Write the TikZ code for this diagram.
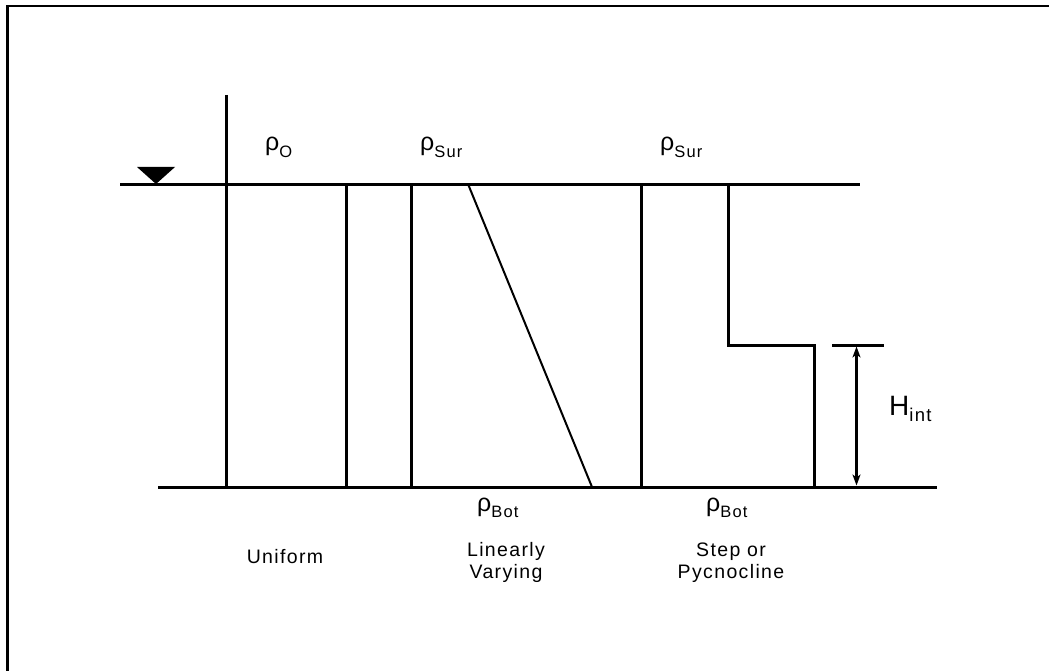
\documentclass[tikz,border=0pt]{standalone}
\usepackage{fontspec}
\usetikzlibrary{arrows.meta}
\setmainfont{Liberation Sans}
\newfontfamily\lblfont[LetterSpace=7]{Liberation Sans}
\newcommand{\rsub}[1]{\raisebox{-6.5pt}{\lblfont\fontsize{16.5}{17}\selectfont #1}}
\begin{document}
\begin{tikzpicture}[x=1pt,y=-1pt,
  ln/.style={line width=3pt},
  thin/.style={line width=2pt},
  lbl/.style={font=\lblfont\fontsize{19.5}{21.5}\selectfont, align=center, inner sep=0pt, anchor=base},
  rho/.style={font=\fontsize{25}{26}\selectfont, inner sep=0pt, anchor=base west}]
\useasboundingbox (0,0) rectangle (1049,671);
% frame (top and left only)
\draw[line width=2.8pt] (1049,6) -- (7.5,6) -- (7.5,671);
% surface & bottom
\coordinate (s0) at (120,184.5); \coordinate (s1) at (860,184.5);
\coordinate (b0) at (158,487); \coordinate (b1) at (937,487);
\draw[ln] (s0) -- (s1);
\draw[ln] (b0) -- (b1);
% water level triangle
\fill (137,167) -- (175,167) -- (156,184) -- cycle;
% axis
\coordinate (a0) at (226,95); \coordinate (a1) at (226,487);
\draw[ln] (a0) -- (a1);
% uniform
\draw[ln] (346,184) -- (346,487);
% linear
\draw[ln] (411,184) -- (411,487);
\draw[thin] (468,184) -- (592,487);
% step
\draw[ln] (641,184) -- (641,487);
\draw[ln] (728,184) -- (728,345) -- (814,345) -- (814,487);
% H_int
\coordinate (h0) at (832,345); \coordinate (h1) at (884,345);
\draw[ln] (h0) -- (h1);
\draw[ln, {Stealth[length=11pt,width=8pt,inset=3pt]}-{Stealth[length=11pt,width=8pt,inset=3pt]}] (856.5,346.5) -- (856.5,485.5);
\node[anchor=base west, inner sep=0pt, font=\fontsize{28}{30}\selectfont] (H) at (889,415) {H\raisebox{-6pt}{\lblfont\fontsize{18.5}{20}\selectfont int}};
% rho labels
\node[rho] (r0) at (265,151) {ρ\rsub{O}};
\node[rho] (r1) at (420,151) {ρ\rsub{Sur}};
\node[rho] (r2) at (660,151) {ρ\rsub{Sur}};
\node[rho] (r3) at (477,511) {ρ\rsub{Bot}};
\node[rho] (r4) at (706,511) {ρ\rsub{Bot}};
% captions
\node[lbl] (c0) at (285,563) {Uniform};
\node[lbl] (c1) at (506,578) {Linearly\\Varying};
\node[lbl] (c2) at (731,578) {Step or\\Pycnocline};
\end{tikzpicture}
\end{document}
